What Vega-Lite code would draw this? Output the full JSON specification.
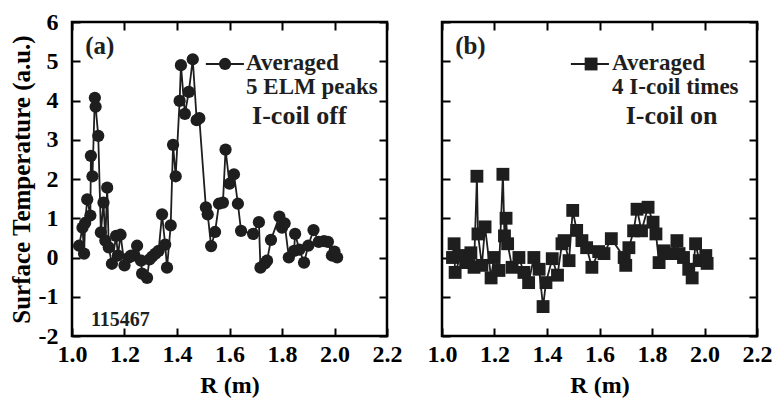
{
  "$schema": "https://vega.github.io/schema/vega-lite/v6.json",
  "background": "white",
  "padding": {"left": 7, "top": 8, "right": 5, "bottom": 5},
  "spacing": 55,
  "bounds": "flush",
  "datasets": {
    "off": [
      {"R": 1.027, "T": 0.30}, {"R": 1.04, "T": 0.76}, {"R": 1.046, "T": 0.10}, {"R": 1.05, "T": 0.88},
      {"R": 1.058, "T": 1.48}, {"R": 1.07, "T": 1.07}, {"R": 1.072, "T": 2.59}, {"R": 1.078, "T": 2.07},
      {"R": 1.087, "T": 4.07}, {"R": 1.09, "T": 3.84}, {"R": 1.10, "T": 3.10}, {"R": 1.11, "T": 0.64},
      {"R": 1.12, "T": 1.40}, {"R": 1.127, "T": 0.43}, {"R": 1.134, "T": 1.78}, {"R": 1.14, "T": 0.26},
      {"R": 1.152, "T": -0.16}, {"R": 1.168, "T": 0.55}, {"R": 1.175, "T": 0.05}, {"R": 1.185, "T": 0.58},
      {"R": 1.20, "T": -0.20}, {"R": 1.217, "T": 0.00}, {"R": 1.225, "T": 0.05}, {"R": 1.235, "T": 0.05},
      {"R": 1.248, "T": 0.30}, {"R": 1.263, "T": -0.08}, {"R": 1.267, "T": -0.41}, {"R": 1.286, "T": -0.52},
      {"R": 1.295, "T": -0.05}, {"R": 1.305, "T": 0.02}, {"R": 1.318, "T": 0.10}, {"R": 1.33, "T": 0.17},
      {"R": 1.343, "T": 1.10}, {"R": 1.355, "T": 0.33}, {"R": 1.362, "T": -0.26}, {"R": 1.376, "T": 0.82},
      {"R": 1.385, "T": 2.87}, {"R": 1.395, "T": 2.07}, {"R": 1.41, "T": 3.99}, {"R": 1.415, "T": 4.90},
      {"R": 1.43, "T": 3.66}, {"R": 1.445, "T": 4.22}, {"R": 1.46, "T": 5.05}, {"R": 1.475, "T": 3.50},
      {"R": 1.485, "T": 3.55}, {"R": 1.51, "T": 1.28}, {"R": 1.517, "T": 1.10}, {"R": 1.53, "T": 0.29},
      {"R": 1.545, "T": 0.65}, {"R": 1.56, "T": 1.37}, {"R": 1.575, "T": 1.40}, {"R": 1.585, "T": 2.75},
      {"R": 1.60, "T": 1.88}, {"R": 1.617, "T": 2.12}, {"R": 1.632, "T": 1.37}, {"R": 1.644, "T": 0.68},
      {"R": 1.69, "T": 0.60}, {"R": 1.712, "T": 0.90}, {"R": 1.718, "T": -0.26}, {"R": 1.735, "T": -0.15},
      {"R": 1.743, "T": -0.08}, {"R": 1.758, "T": 0.45}, {"R": 1.79, "T": 1.04}, {"R": 1.80, "T": 0.76},
      {"R": 1.81, "T": 0.87}, {"R": 1.826, "T": 0.00}, {"R": 1.846, "T": 0.17}, {"R": 1.85, "T": 0.60},
      {"R": 1.866, "T": 0.20}, {"R": 1.884, "T": -0.13}, {"R": 1.90, "T": 0.30}, {"R": 1.92, "T": 0.70},
      {"R": 1.94, "T": 0.40}, {"R": 1.96, "T": 0.42}, {"R": 1.975, "T": 0.40}, {"R": 1.99, "T": 0.05},
      {"R": 2.00, "T": 0.15}, {"R": 2.01, "T": 0.00}
    ],
    "on": [
      {"R": 1.04, "T": 0.00}, {"R": 1.046, "T": 0.35}, {"R": 1.05, "T": -0.38}, {"R": 1.072, "T": 0.05},
      {"R": 1.09, "T": -0.13}, {"R": 1.11, "T": 0.12}, {"R": 1.122, "T": -0.25}, {"R": 1.133, "T": 2.07},
      {"R": 1.137, "T": 0.60}, {"R": 1.152, "T": -0.20}, {"R": 1.164, "T": 0.78}, {"R": 1.187, "T": -0.52},
      {"R": 1.198, "T": 0.00}, {"R": 1.217, "T": -0.33}, {"R": 1.232, "T": 2.12}, {"R": 1.238, "T": 0.55},
      {"R": 1.244, "T": 1.00}, {"R": 1.25, "T": 0.35}, {"R": 1.267, "T": -0.25}, {"R": 1.293, "T": 0.00},
      {"R": 1.312, "T": -0.38}, {"R": 1.33, "T": -0.64}, {"R": 1.35, "T": 0.00}, {"R": 1.37, "T": -0.30},
      {"R": 1.385, "T": -1.25}, {"R": 1.396, "T": -0.64}, {"R": 1.42, "T": -0.03}, {"R": 1.44, "T": -0.45},
      {"R": 1.457, "T": 0.35}, {"R": 1.465, "T": 0.43}, {"R": 1.484, "T": -0.08}, {"R": 1.498, "T": 1.20},
      {"R": 1.513, "T": 0.69}, {"R": 1.533, "T": 0.43}, {"R": 1.551, "T": 0.25}, {"R": 1.571, "T": -0.25},
      {"R": 1.597, "T": 0.15}, {"R": 1.617, "T": 0.10}, {"R": 1.645, "T": 0.48}, {"R": 1.694, "T": 0.00},
      {"R": 1.70, "T": -0.20}, {"R": 1.712, "T": 0.25}, {"R": 1.73, "T": 0.68}, {"R": 1.743, "T": 1.23},
      {"R": 1.76, "T": 0.68}, {"R": 1.785, "T": 1.28}, {"R": 1.804, "T": 0.90}, {"R": 1.815, "T": 0.60},
      {"R": 1.827, "T": -0.13}, {"R": 1.846, "T": 0.17}, {"R": 1.87, "T": 0.10}, {"R": 1.895, "T": 0.43},
      {"R": 1.903, "T": 0.10}, {"R": 1.92, "T": 0.00}, {"R": 1.94, "T": -0.30}, {"R": 1.953, "T": -0.52},
      {"R": 1.966, "T": 0.35}, {"R": 1.98, "T": -0.08}, {"R": 2.005, "T": 0.05}, {"R": 2.01, "T": -0.15}
    ]
  },
  "hconcat": [
    {
      "width": 315,
      "height": 314,
      "layer": [
        {
          "data": {"name": "off"},
          "mark": {"type": "line", "color": "#1e1e1e", "strokeWidth": 1.8, "point": {"filled": true, "size": 150, "color": "#1e1e1e", "opacity": 1}},
          "encoding": {
            "x": {"field": "R", "type": "quantitative", "scale": {"domain": [1, 2.2], "nice": false, "zero": false},
                  "axis": {"orient": "bottom", "title": "R (m)", "values": [1, 1.2, 1.4, 1.6, 1.8, 2.0, 2.2], "labelExpr": "format(datum.value, '.1f')", "labelPadding": 6, "titlePadding": 7}},
            "y": {"field": "T", "type": "quantitative", "scale": {"domain": [-2, 6], "nice": false, "zero": false},
                  "axis": {"orient": "left", "title": "Surface Temperature (a.u.)", "values": [-2, -1, 0, 1, 2, 3, 4, 5, 6], "labelExpr": "'' + datum.value", "labelPadding": 14, "titlePadding": 4, "titleFontSize": 25}}
          }
        },
        {
          "data": {"name": "off"},
          "mark": {"type": "point", "opacity": 0},
          "encoding": {
            "x": {"field": "R", "type": "quantitative", "axis": {"orient": "top", "labels": false, "title": null, "values": [1, 1.2, 1.4, 1.6, 1.8, 2.0, 2.2]}},
            "y": {"field": "T", "type": "quantitative", "axis": {"orient": "right", "labels": false, "title": null, "values": [-2, -1, 0, 1, 2, 3, 4, 5, 6]}}
          }
        },
        {
          "data": {"values": [{}]},
          "mark": {"type": "rule", "color": "#1e1e1e", "strokeWidth": 1.8},
          "encoding": {"x": {"datum": 1.51, "type": "quantitative", "axis": null}, "x2": {"datum": 1.655}, "y": {"datum": 4.93, "type": "quantitative", "axis": null}}
        },
        {
          "data": {"values": [{}]},
          "mark": {"type": "point", "filled": true, "size": 150, "color": "#1e1e1e", "opacity": 1},
          "encoding": {"x": {"datum": 1.583, "type": "quantitative", "axis": null}, "y": {"datum": 4.93, "type": "quantitative", "axis": null}}
        },
        {
          "data": {"values": [{}]},
          "mark": {"type": "text", "align": "left", "baseline": "middle", "font": "Liberation Serif", "fontWeight": "bold", "fontSize": 23, "lineBreak": "\n", "lineHeight": 24, "text": "Averaged\n5 ELM peaks", "color": "#1e1e1e"},
          "encoding": {"x": {"datum": 1.663, "type": "quantitative", "axis": null}, "y": {"datum": 4.95, "type": "quantitative", "axis": null}}
        },
        {
          "data": {"values": [{}]},
          "mark": {"type": "text", "align": "left", "baseline": "middle", "font": "Liberation Serif", "fontWeight": "bold", "fontSize": 26, "text": "I-coil off", "color": "#1e1e1e"},
          "encoding": {"x": {"datum": 1.686, "type": "quantitative", "axis": null}, "y": {"datum": 3.6, "type": "quantitative", "axis": null}}
        },
        {
          "data": {"values": [{}]},
          "mark": {"type": "text", "align": "left", "baseline": "middle", "font": "Liberation Serif", "fontWeight": "bold", "fontSize": 25, "text": "(a)", "color": "#1e1e1e"},
          "encoding": {"x": {"datum": 1.05, "type": "quantitative", "axis": null}, "y": {"datum": 5.4, "type": "quantitative", "axis": null}}
        },
        {
          "data": {"values": [{}]},
          "mark": {"type": "text", "align": "left", "baseline": "middle", "font": "Liberation Serif", "fontWeight": "bold", "fontSize": 20, "text": "115467", "color": "#1e1e1e"},
          "encoding": {"x": {"datum": 1.072, "type": "quantitative", "axis": null}, "y": {"datum": -1.6, "type": "quantitative", "axis": null}}
        }
      ],
      "resolve": {"axis": {"x": "independent", "y": "independent"}}
    },
    {
      "width": 315,
      "height": 314,
      "layer": [
        {
          "data": {"name": "on"},
          "mark": {"type": "line", "color": "#1e1e1e", "strokeWidth": 1.8, "point": {"filled": true, "shape": "square", "size": 165, "color": "#1e1e1e", "opacity": 1}},
          "encoding": {
            "x": {"field": "R", "type": "quantitative", "scale": {"domain": [1, 2.2], "nice": false, "zero": false},
                  "axis": {"orient": "bottom", "title": "R (m)", "values": [1, 1.2, 1.4, 1.6, 1.8, 2.0, 2.2], "labelExpr": "format(datum.value, '.1f')", "labelPadding": 6, "titlePadding": 7}},
            "y": {"field": "T", "type": "quantitative", "scale": {"domain": [-2, 6], "nice": false, "zero": false},
                  "axis": {"orient": "left", "labels": false, "title": null, "values": [-2, -1, 0, 1, 2, 3, 4, 5, 6]}}
          }
        },
        {
          "data": {"name": "on"},
          "mark": {"type": "point", "opacity": 0},
          "encoding": {
            "x": {"field": "R", "type": "quantitative", "axis": {"orient": "top", "labels": false, "title": null, "values": [1, 1.2, 1.4, 1.6, 1.8, 2.0, 2.2]}},
            "y": {"field": "T", "type": "quantitative", "axis": {"orient": "right", "labels": false, "title": null, "values": [-2, -1, 0, 1, 2, 3, 4, 5, 6]}}
          }
        },
        {
          "data": {"values": [{}]},
          "mark": {"type": "rule", "color": "#1e1e1e", "strokeWidth": 1.8},
          "encoding": {"x": {"datum": 1.491, "type": "quantitative", "axis": null}, "x2": {"datum": 1.636}, "y": {"datum": 4.93, "type": "quantitative", "axis": null}}
        },
        {
          "data": {"values": [{}]},
          "mark": {"type": "point", "filled": true, "shape": "square", "size": 165, "color": "#1e1e1e", "opacity": 1},
          "encoding": {"x": {"datum": 1.568, "type": "quantitative", "axis": null}, "y": {"datum": 4.93, "type": "quantitative", "axis": null}}
        },
        {
          "data": {"values": [{}]},
          "mark": {"type": "text", "align": "left", "baseline": "middle", "font": "Liberation Serif", "fontWeight": "bold", "fontSize": 23, "lineBreak": "\n", "lineHeight": 24, "text": "Averaged\n4 I-coil times", "color": "#1e1e1e"},
          "encoding": {"x": {"datum": 1.648, "type": "quantitative", "axis": null}, "y": {"datum": 4.95, "type": "quantitative", "axis": null}}
        },
        {
          "data": {"values": [{}]},
          "mark": {"type": "text", "align": "left", "baseline": "middle", "font": "Liberation Serif", "fontWeight": "bold", "fontSize": 26, "text": "I-coil on", "color": "#1e1e1e"},
          "encoding": {"x": {"datum": 1.70, "type": "quantitative", "axis": null}, "y": {"datum": 3.6, "type": "quantitative", "axis": null}}
        },
        {
          "data": {"values": [{}]},
          "mark": {"type": "text", "align": "left", "baseline": "middle", "font": "Liberation Serif", "fontWeight": "bold", "fontSize": 25, "text": "(b)", "color": "#1e1e1e"},
          "encoding": {"x": {"datum": 1.05, "type": "quantitative", "axis": null}, "y": {"datum": 5.4, "type": "quantitative", "axis": null}}
        }
      ],
      "resolve": {"axis": {"x": "independent", "y": "independent"}}
    }
  ],
  "config": {
    "view": {"stroke": "black", "strokeWidth": 2.5},
    "font": "Liberation Serif",
    "axis": {
      "domain": false, "grid": false,
      "tickColor": "black", "tickWidth": 2, "tickSize": 8, "offset": -8,
      "labelFont": "Liberation Serif", "labelFontWeight": "bold", "labelFontSize": 24, "labelColor": "black",
      "labelFlush": false, "labelOverlap": false, "labelBound": false,
      "titleFont": "Liberation Serif", "titleFontWeight": "bold", "titleFontSize": 24, "titleColor": "black"
    }
  }
}
